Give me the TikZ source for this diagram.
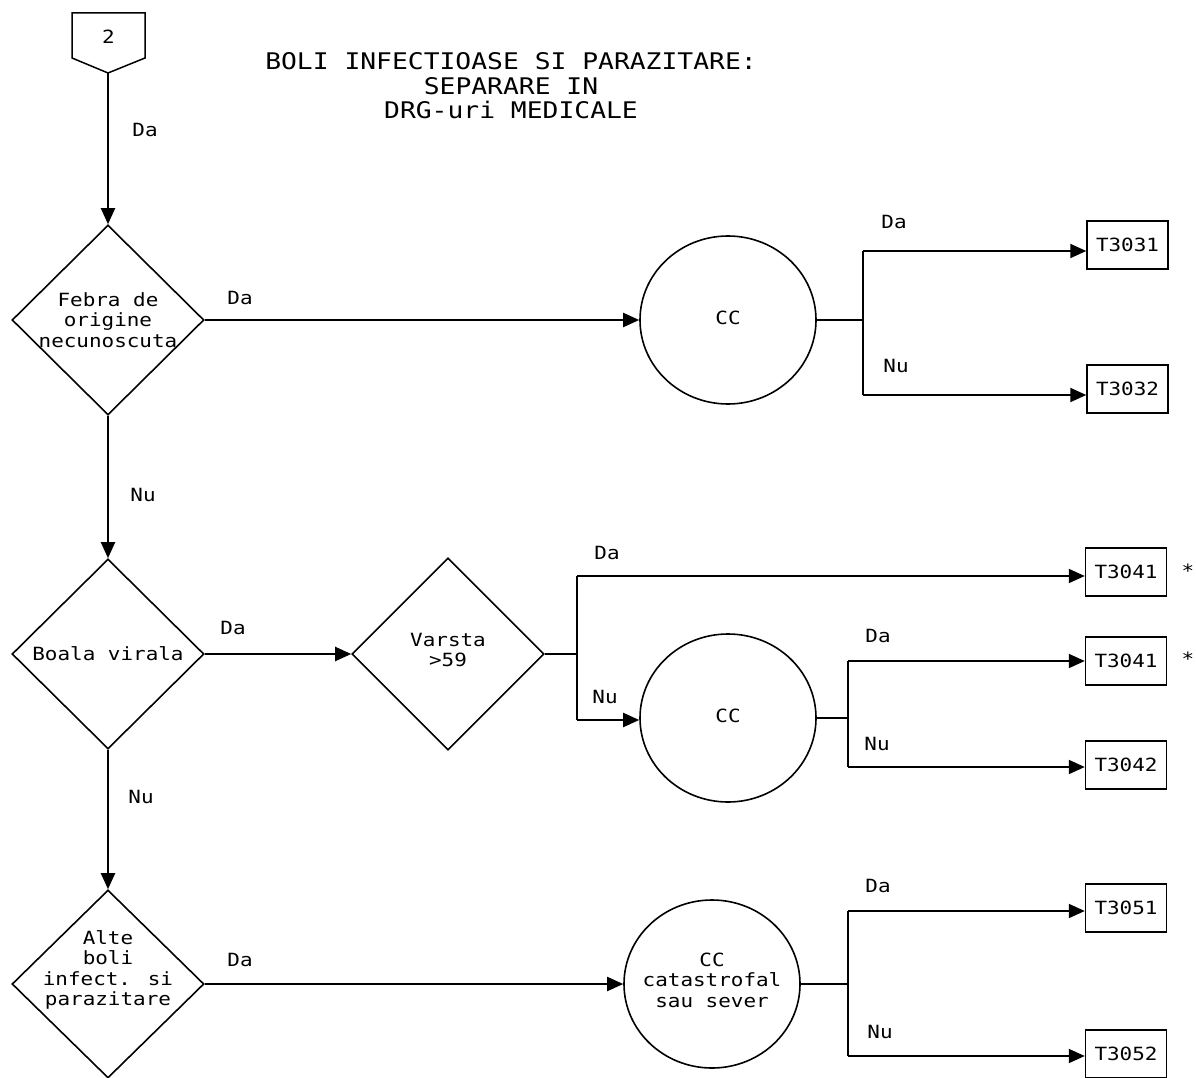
\documentclass[tikz,border=0pt]{standalone}
\usepackage{fontspec}
\usepackage{tikz}
\usetikzlibrary{arrows.meta,shapes.geometric,positioning,calc}
\newfontfamily\flowfont[FakeStretch=1.15]{DejaVu Sans Mono}

\begin{document}
\begin{tikzpicture}[x=1pt,y=-1pt,
  font=\flowfont\fontsize{18.2}{20.5}\selectfont,
  decision/.style={diamond,draw,line width=1.6pt,inner sep=0pt,minimum width=192pt,minimum height=190pt},
  ccnode/.style={ellipse,draw,line width=1.6pt,inner sep=0pt,minimum width=176pt,minimum height=168pt},
  leaf/.style={rectangle,draw,line width=1.5pt,inner sep=0pt,minimum width=81pt,minimum height=48pt},
  inside/.style={align=center,inner sep=0pt},
  flow/.style={line width=2pt,-{Triangle[length=16pt,width=14pt]}},
  bar/.style={line width=2pt},
  stub/.style={line width=1.4pt}]
\useasboundingbox (0,0) rectangle (1196,1078);

% Title
\node[align=center,font=\flowfont\fontsize{22.9}{24.5}\selectfont] (title) at (511,86) {BOLI INFECTIOASE SI PARAZITARE:\\SEPARARE IN\\DRG-uri MEDICALE};

% Start connector
\draw[line width=1.5pt] (72,13) -- (145,13) -- (145,58) -- (108,73) -- (72,58) -- cycle;
\node (start) at (108.5,37) {2};
\coordinate (starttip) at (108,73);

% Left column of decisions
\node[decision,label={[inside]center:Febra de\\origine\\necunoscuta}] (febra) at (108,320) {};
\node[decision,label={[inside]center:Boala virala}] (boala) at (108,654) {};
\node[decision,minimum height=188pt,label={[inside,yshift=14pt]center:{Alte\\boli\\infect. si\\parazitare}}] (alte) at (108,984) {};
\node[decision,minimum height=192pt,label={[inside,yshift=4pt]center:Varsta\\>59}] (varsta) at (448,654) {};

% CC checks
\node[ccnode,label={[inside,yshift=2pt]center:CC}] (cc1) at (728,320) {};
\node[ccnode,label={[inside,yshift=2pt]center:CC}] (cc2) at (728,718) {};
\node[ccnode,label={[inside,yshift=4pt]center:CC\\catastrofal\\sau sever}] (cc3) at (712,984) {};

% Results
\node[leaf] (t3031) at (1127.5,245) {T3031};
\node[leaf] (t3032) at (1127.5,389) {T3032};
\node[leaf] (t3041a) at (1126,572) {T3041};
\node[leaf] (t3041b) at (1126,661) {T3041};
\node[leaf] (t3042) at (1126,765) {T3042};
\node[leaf] (t3051) at (1126,908) {T3051};
\node[leaf] (t3052) at (1126,1054) {T3052};
\node (starA) at (1188,571) {*};
\node (starB) at (1188,659) {*};

% Main flow
\draw[flow] (starttip) -- (febra.north);
\draw[flow] (febra.south) -- (boala.north);
\draw[flow] (boala.south) -- (alte.north);
\draw[flow] (febra.east) -- (cc1.west);
\draw[flow] (boala.east) -- (varsta.west);
\draw[flow] (alte.east) -- (cc3.west);

% Branch after CC (febra)
\coordinate (j1) at (863,320);
\coordinate (j1up) at (863,251);
\coordinate (j1dn) at (863,395);
\draw[stub] (cc1.east) -- (j1);
\draw[bar] (j1up) -- (j1dn);
\draw[flow] (j1up) -- (j1up -| t3031.west);
\draw[flow] (j1dn) -- (j1dn -| t3032.west);

% Branch after varsta
\coordinate (j2) at (577,654);
\coordinate (j2up) at (577,576);
\coordinate (j2dn) at (577,720);
\draw[stub] (varsta.east) -- (j2);
\draw[bar] (j2up) -- (j2dn);
\draw[flow] (j2up) -- (j2up -| t3041a.west);
\draw[flow] (j2dn) -- (j2dn -| cc2.west);

% Branch after CC (virala)
\coordinate (j3) at (848,718);
\coordinate (j3up) at (848,661);
\coordinate (j3dn) at (848,767);
\draw[stub] (cc2.east) -- (j3);
\draw[bar] (j3up) -- (j3dn);
\draw[flow] (j3up) -- (j3up -| t3041b.west);
\draw[flow] (j3dn) -- (j3dn -| t3042.west);

% Branch after CC catastrofal
\coordinate (j4) at (848,984);
\coordinate (j4up) at (848,911);
\coordinate (j4dn) at (848,1056);
\draw[stub] (cc3.east) -- (j4);
\draw[bar] (j4up) -- (j4dn);
\draw[flow] (j4up) -- (j4up -| t3051.west);
\draw[flow] (j4dn) -- (j4dn -| t3052.west);

% Da / Nu labels
\node (daA) at (145,130) {Da};
\node (daB) at (240,298) {Da};
\node (daC) at (894,222) {Da};
\node (nuC) at (896,366) {Nu};
\node (nuA) at (143,495) {Nu};
\node (daD) at (233,628) {Da};
\node (daE) at (607,553) {Da};
\node (nuE) at (605,697) {Nu};
\node (daF) at (878,636) {Da};
\node (nuF) at (877,744) {Nu};
\node (nuB) at (141,797) {Nu};
\node (daG) at (240,960) {Da};
\node (daH) at (878,886) {Da};
\node (nuH) at (880,1032) {Nu};
\end{tikzpicture}
\end{document}
